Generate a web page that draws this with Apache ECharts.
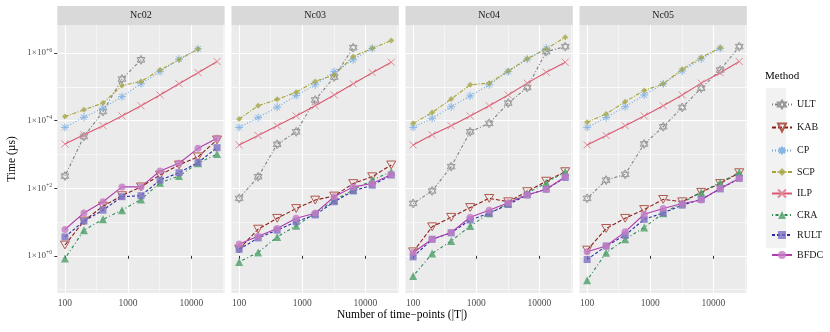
<!DOCTYPE html>
<html>
<head>
<meta charset="utf-8">
<script src="https://cdn.jsdelivr.net/npm/echarts@6/dist/echarts.min.js"></script>
<style>
  html, body { margin: 0; padding: 0; background: #fff; }
  #chart { width: 830px; height: 332px; }
</style>
</head>
<body>
<div id="chart"></div>
<script>
// number of time-points |T|
const timePoints = [100, 200, 400, 800, 1600, 3200, 6400, 12800, 25600];
const panels = ['Nc02', 'Nc03', 'Nc04', 'Nc05'];
const methods = ['ULT', 'KAB', 'CP', 'SCP', 'ILP', 'CRA', 'RULT', 'BFDC'];
const xTicks = [100, 1000, 10000];
const yTickExp = [0, 2, 4, 6];

// values are log10 of time in µs (null = no run)
const ULT_Nc02 = [2.36, 3.53, 4.27, 5.23, 5.80, null, null, null, null];
const KAB_Nc02 = [0.32, 1.03, 1.47, 1.78, 2.04, 2.39, 2.69, 2.93, 3.43];
const CP_Nc02 = [3.80, 4.10, 4.37, 4.71, 5.09, 5.45, 5.82, 6.12, null];
const SCP_Nc02 = [4.12, 4.32, 4.52, 5.04, 5.16, 5.50, 5.80, 6.12, null];
const ILP_Nc02 = [3.31, 3.58, 3.85, 4.14, 4.44, 4.76, 5.09, 5.42, 5.75];
const CRA_Nc02 = [-0.08, 0.76, 1.08, 1.35, 1.67, 2.16, 2.36, 2.74, 3.01];
const RULT_Nc02 = [0.56, 1.03, 1.35, 1.75, 1.78, 2.24, 2.46, 2.76, 3.20];
const BFDC_Nc02 = [0.78, 1.27, 1.60, 2.04, 2.04, 2.51, 2.74, 3.18, 3.48];

const ULT_Nc03 = [1.70, 2.34, 3.30, 3.67, 4.61, 5.29, 6.16, null, null];
const KAB_Nc03 = [0.20, 0.79, 1.11, 1.40, 1.65, 1.77, 2.14, 2.34, 2.69];
const CP_Nc03 = [3.80, 4.09, 4.40, 4.74, 5.06, 5.45, 5.80, 6.14, null];
const SCP_Nc03 = [4.05, 4.44, 4.63, 4.84, 5.16, 5.35, 5.90, 6.14, 6.37];
const ILP_Nc03 = [3.28, 3.56, 3.85, 4.14, 4.44, 4.76, 5.09, 5.42, 5.73];
const CRA_Nc03 = [-0.18, 0.10, 0.56, 0.89, 1.26, 1.65, 1.95, 2.24, 2.49];
const RULT_Nc03 = [0.19, 0.53, 0.76, 1.01, 1.21, 1.60, 1.92, 2.09, 2.39];
const BFDC_Nc03 = [0.35, 0.58, 0.81, 1.11, 1.26, 1.75, 2.04, 2.14, 2.41];

const ULT_Nc04 = [1.55, 1.92, 2.64, 3.67, 3.92, 4.52, 4.98, 6.04, 6.19];
const KAB_Nc04 = [0.12, 0.86, 1.14, 1.43, 1.70, 1.60, 1.90, 2.21, 2.49];
const CP_Nc04 = [3.80, 4.07, 4.41, 4.73, 5.06, 5.45, 5.82, 6.14, null];
const SCP_Nc04 = [3.92, 4.24, 4.64, 5.06, 5.11, 5.47, 5.83, 6.12, 6.47];
const ILP_Nc04 = [3.28, 3.58, 3.85, 4.14, 4.44, 4.76, 5.11, 5.43, 5.73];
const CRA_Nc04 = [-0.60, 0.07, 0.44, 0.88, 1.26, 1.55, 1.85, 2.16, 2.49];
const RULT_Nc04 = [-0.03, 0.49, 0.68, 1.06, 1.26, 1.52, 1.80, 1.97, 2.32];
const BFDC_Nc04 = [0.10, 0.49, 0.69, 1.14, 1.35, 1.57, 1.80, 1.97, 2.34];

const ULT_Nc05 = [1.70, 2.24, 2.41, 3.31, 3.82, 4.39, 4.96, 5.50, 6.19];
const KAB_Nc05 = [0.17, 0.81, 1.11, 1.37, 1.67, 1.60, 1.88, 2.14, 2.46];
const CP_Nc05 = [3.80, 4.09, 4.41, 4.76, 5.09, 5.47, 5.83, 6.14, null];
const SCP_Nc05 = [3.95, 4.20, 4.56, 4.89, 5.09, 5.52, 5.87, 6.16, null];
const ILP_Nc05 = [3.28, 3.56, 3.85, 4.14, 4.44, 4.76, 5.11, 5.42, 5.75];
const CRA_Nc05 = [-0.72, 0.09, 0.49, 0.84, 1.26, 1.57, 1.88, 2.17, 2.47];
const RULT_Nc05 = [-0.11, 0.29, 0.61, 1.08, 1.27, 1.50, 1.67, 1.98, 2.29];
const BFDC_Nc05 = [0.12, 0.29, 0.71, 1.23, 1.40, 1.55, 1.65, 2.00, 2.29];

const panelData = [
  [ULT_Nc02, KAB_Nc02, CP_Nc02, SCP_Nc02, ILP_Nc02, CRA_Nc02, RULT_Nc02, BFDC_Nc02],
  [ULT_Nc03, KAB_Nc03, CP_Nc03, SCP_Nc03, ILP_Nc03, CRA_Nc03, RULT_Nc03, BFDC_Nc03],
  [ULT_Nc04, KAB_Nc04, CP_Nc04, SCP_Nc04, ILP_Nc04, CRA_Nc04, RULT_Nc04, BFDC_Nc04],
  [ULT_Nc05, KAB_Nc05, CP_Nc05, SCP_Nc05, ILP_Nc05, CRA_Nc05, RULT_Nc05, BFDC_Nc05]
];

const FONT = '"Liberation Serif", "DejaVu Serif", serif';

// marker shapes (ggplot-ish)
const STAR = 'path://M10,0 L18.66,15 L1.34,15 Z M10,20 L18.66,5 L1.34,5 Z';
const DOWNTRI = 'path://M0,0 L20,0 L10,17.3 Z';
const ASTER = 'path://M10,0 L10,20 M0,10 L20,10 M2.9,2.9 L17.1,17.1 M2.9,17.1 L17.1,2.9';
const XCROSS = 'path://M0,0 L20,20 M0,20 L20,0';

const styles = [
  { line: '#808080', mark: '#9a9a9a', dash: [1, 2, 3, 2], symbol: STAR, size: 9, hollow: true },
  { line: '#8b1a1a', mark: '#b0584c', dash: [4, 2], symbol: DOWNTRI, size: 9, hollow: true },
  { line: '#6aa6de', mark: '#86b6e6', dash: [1, 2], symbol: ASTER, size: 8, hollow: true },
  { line: '#a3a336', mark: '#a8a84c', dash: [4, 1.5, 1, 1.5], symbol: 'diamond', size: 6, hollow: false },
  { line: '#d9586e', mark: '#e08898', dash: 'solid', symbol: XCROSS, size: 7, hollow: true },
  { line: '#2e8b57', mark: '#4b9f68', dash: [1, 2.5, 3, 2.5], symbol: 'triangle', size: 8, hollow: false },
  { line: '#2a2aa0', mark: '#7a70c0', dash: [3, 2], symbol: 'rect', size: 7, hollow: false },
  { line: '#b03cb0', mark: '#c47cc4', dash: 'solid', symbol: 'circle', size: 7, hollow: false }
];

const panelLeft = [57.3, 231.5, 405.5, 579.5];
const panelW = 167.3;
const panelTop = 25;
const panelH = 268;
const xMin = 1.879, xMax = 4.528;
const yMin = -1.10, yMax = 6.83;

const grids = [], xAxes = [], yAxes = [], series = [], graphics = [];

panels.forEach((p, i) => {
  grids.push({ left: panelLeft[i], top: panelTop, width: panelW, height: panelH,
    show: true, backgroundColor: '#ebebeb', borderWidth: 0 });
  const xMajor = xTicks.map(v => Math.log10(v));
  const xMinor = xMajor.map(v => v + 0.5);
  // major x axis
  xAxes.push({ type: 'value', gridIndex: i, min: xMin, max: xMax,
    axisLine: { show: false },
    axisTick: { show: true, length: 3, lineStyle: { color: '#333' }, customValues: xMajor },
    axisLabel: { customValues: xMajor, formatter: v => String(Math.round(Math.pow(10, v))),
      color: '#4d4d4d', fontSize: 9.5, fontFamily: FONT, margin: 5 },
    splitLine: { show: true, lineStyle: { color: '#fff', width: 1.1 } } });
  // minor x grid
  xAxes.push({ type: 'value', gridIndex: i, min: xMin, max: xMax,
    axisLine: { show: false }, axisLabel: { show: false },
    axisTick: { show: false, customValues: xMinor },
    splitLine: { show: true, lineStyle: { color: '#fff', width: 0.5 } } });
  const yMinor = yTickExp.map(v => v - 1).concat([5]);
  yAxes.push({ type: 'value', gridIndex: i, min: yMin, max: yMax,
    axisLine: { show: false },
    axisTick: { show: i === 0, length: 3, lineStyle: { color: '#333' }, customValues: yTickExp },
    axisLabel: { show: i === 0, customValues: yTickExp, margin: 5,
      formatter: v => '{a|1\u00d710}{s|+' + Math.round(v) + '}',
      rich: {
        a: { fontSize: 9, fontFamily: FONT, color: '#4d4d4d', lineHeight: 12 },
        s: { fontSize: 6, fontFamily: FONT, color: '#4d4d4d', verticalAlign: 'top', lineHeight: 12 }
      } },
    splitLine: { show: true, lineStyle: { color: '#fff', width: 1.1 } } });
  yAxes.push({ type: 'value', gridIndex: i, min: yMin, max: yMax,
    axisLine: { show: false }, axisLabel: { show: false },
    axisTick: { show: false, customValues: yMinor },
    splitLine: { show: true, lineStyle: { color: '#fff', width: 0.5 } } });

  methods.forEach((m, k) => {
    const st = styles[k];
    const vals = panelData[i][k];
    const data = [];
    vals.forEach((v, j) => { if (v !== null) data.push([Math.log10(timePoints[j]), v]); });
    series.push({
      name: m, type: 'line', xAxisIndex: 2 * i, yAxisIndex: 2 * i,
      data: data, showAllSymbol: true, symbol: st.symbol, symbolSize: st.size,
      symbolKeepAspect: true,
      lineStyle: { color: st.line, width: 1.1, type: st.dash },
      itemStyle: st.hollow
        ? { color: 'none', borderColor: st.mark, borderWidth: 1 }
        : { color: st.mark, opacity: 0.8, borderWidth: 0 },
      color: st.mark,
      emphasis: { disabled: true }
    });
  });

  // facet strip
  graphics.push({ type: 'rect', x: panelLeft[i], y: 6, shape: { width: panelW, height: 19 },
    style: { fill: '#d9d9d9' } });
  graphics.push({ type: 'text', x: panelLeft[i] + panelW / 2, y: 15.5,
    style: { text: p, align: 'center', verticalAlign: 'middle', fill: '#1a1a1a', font: '10px ' + FONT } });
});

// axis titles
graphics.push({ type: 'text', x: 402, y: 315,
  style: { text: 'Number of time\u2212points (|T|)', align: 'center', verticalAlign: 'middle',
    fill: '#000', font: '11.5px ' + FONT } });
graphics.push({ type: 'text', x: 12, y: 159, rotation: Math.PI / 2,
  style: { text: 'Time (\u00b5s)', align: 'center', verticalAlign: 'middle',
    fill: '#000', font: '11.5px ' + FONT } });
// legend title and key background
graphics.push({ type: 'text', x: 765, y: 76,
  style: { text: 'Method', align: 'left', verticalAlign: 'middle', fill: '#000', font: '11px ' + FONT } });
graphics.push({ type: 'rect', x: 766, y: 88, z: -1, shape: { width: 20, height: 160 },
  style: { fill: '#f2f2f2' } });

const chart = echarts.init(document.getElementById('chart'), null, { renderer: 'canvas' });
chart.setOption({
  animation: false,
  backgroundColor: '#fff',
  grid: grids,
  xAxis: xAxes,
  yAxis: yAxes,
  series: series,
  legend: {
    data: methods, orient: 'vertical', left: 766, top: 93,
    itemWidth: 20, itemHeight: 10, itemGap: 10,
    textStyle: { fontFamily: FONT, fontSize: 10, color: '#1a1a1a' },
    selectedMode: false
  },
  graphic: graphics
});
</script>
</body>
</html>
